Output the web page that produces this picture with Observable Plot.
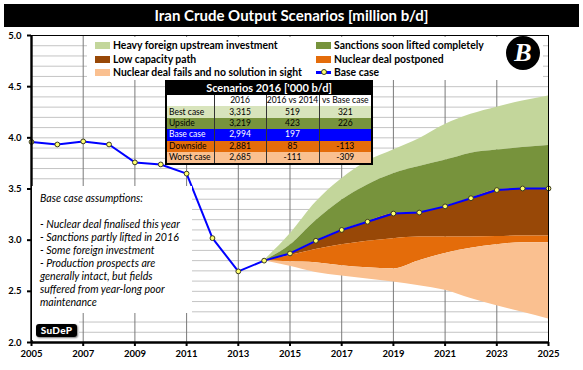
<!DOCTYPE html>
<html><head><meta charset="utf-8">
<script src="https://cdn.jsdelivr.net/npm/d3@7"></script>
<script src="https://cdn.jsdelivr.net/npm/@observablehq/plot@0.6"></script>
<style>
body{margin:0;background:#fff;}
#wrap{position:relative;width:583px;height:370px;overflow:hidden;font-family:Lato,sans-serif;}
#wrap svg{position:absolute;left:0;top:0;}
.title{position:absolute;left:4px;top:4px;width:575px;height:23px;background:#000;color:#fff;font-weight:bold;font-size:15px;text-align:center;line-height:23px;}
.legbox{position:absolute;left:87px;top:37px;width:456px;height:43px;background:#fff;}
.leg{position:absolute;font-weight:bold;font-size:10.4px;line-height:12px;white-space:nowrap;color:#000;}
.sw{position:absolute;width:15px;height:7px;}
.logo{position:absolute;left:506px;top:36px;width:34px;height:34px;border-radius:50%;background:#000;color:#fff;font:italic bold 26px "Liberation Serif",serif;text-align:center;line-height:34px;}
table.t{position:absolute;left:165px;top:80px;border-collapse:collapse;border:2px solid #000;border-top:none;font-size:8.5px;width:206px;table-layout:fixed;}
table.t td{padding:0;height:11.4px;line-height:11px;text-align:center;border-left:1px solid #333;white-space:nowrap;overflow:hidden;}
table.t td:first-child{text-align:left;border-left:none;padding-left:2px;}
table.t th{background:#000;color:#fff;font-size:11px;font-weight:bold;height:15px;line-height:15px;padding:0;}
.note{position:absolute;left:32px;top:186px;width:160px;height:127px;background:#fff;font-style:italic;font-size:10.6px;line-height:13px;color:#000;}
.note div{padding-left:8px;white-space:nowrap;}
.sudepbg{position:absolute;left:32px;top:313px;width:47px;height:27px;background:#fff;}
.sudep{position:absolute;left:36px;top:324px;width:41px;height:13px;background:#000;border-radius:3px;color:#fff;font-weight:900;font-size:10px;line-height:13px;text-align:center;box-shadow:1px 1px 2px #777;letter-spacing:0.3px;}
</style></head><body><div id="wrap"></div>
<script>
// ---- data ----
const years = [2005,2006,2007,2008,2009,2010,2011,2012,2013,2014,2015,2016,2017,2018,2019,2020,2021,2022,2023,2024,2025];
const baseCase = [3.96,3.935,3.965,3.935,3.76,3.74,3.65,3.02,2.695,2.80,2.87,2.994,3.10,3.18,3.26,3.27,3.33,3.41,3.49,3.505,3.505];

const scenYears   = [2014,2015,2016,2017,2018,2019,2020,2021,2022,2023,2024,2025];
const bestTop     = [2.80,3.06,3.37,3.60,3.77,3.88,3.99,4.13,4.23,4.30,4.36,4.41];
const upsideTop   = [2.80,2.95,3.19,3.39,3.54,3.65,3.72,3.78,3.85,3.88,3.905,3.925];
const baseLine    = [2.80,2.87,2.994,3.10,3.18,3.26,3.27,3.33,3.41,3.49,3.505,3.505];
const lowCapBot   = [2.80,2.85,2.91,2.955,2.99,3.015,3.03,3.03,3.03,3.035,3.04,3.04];
const postponeBot = [2.80,2.79,2.78,2.75,2.73,2.72,2.80,2.87,2.92,2.955,2.975,2.975];
const worstBot    = [2.80,2.745,2.685,2.65,2.62,2.59,2.555,2.51,2.43,2.36,2.295,2.23];

const legendLabels = ["Heavy foreign upstream investment","Sanctions soon lifted completely","Low capacity path","Nuclear deal postponed","Nuclear deal fails and no solution in sight","Base case"];
const bandColors = ["#C3D69B","#77933C","#984807","#E46C0A","#FAC090"];

const tableTitle = "Scenarios 2016 ['000 b/d]";
const tableCols = ["2016","2016 vs 2014","vs Base case"];
const tableRows = ["Best case","Upside","Base case","Downside","Worst case"];
const table2016 = ["3,315","3,219","2,994","2,881","2,685"];
const tableVs2014 = ["519","423","197","85","-111"];
const tableVsBase = ["321","226","","-113","-309"];

const noteLines = ["Base case assumptions:","","- Nuclear deal finalised this year","- Sanctions partly lifted in 2016","- Some foreign investment","- Production prospects are","generally intact, but fields","suffered from year-long poor","maintenance"];

const xTicks = [2005,2007,2009,2011,2013,2015,2017,2019,2021,2023,2025];
const yTicks = [2.0,2.5,3.0,3.5,4.0,4.5,5.0];

// ---- build tables ----
const base = years.map((y,i)=>({year:y, v:baseCase[i]}));
const scen = scenYears.map((y,i)=>({year:y, best:bestTop[i], up:upsideTop[i], base:baseLine[i], low:lowCapBot[i], post:postponeBot[i], worst:worstBot[i]}));
const gridY = d3.range(21,50).map(d=>d/10);
const gridX = xTicks.slice(1,-1);

const plot = Plot.plot({
  width:583, height:370,
  marginLeft:31, marginRight:35, marginTop:35, marginBottom:28,
  x:{domain:[2005,2025], label:null},
  y:{domain:[2,5], label:null},
  style:{fontFamily:"Lato", fontSize:"9.5px", fontWeight:"bold", color:"#000", background:"transparent"},
  marks:[
    Plot.ruleY(gridY, {stroke:"#c4c4c4", strokeWidth:1}),
    Plot.ruleX(gridX, {stroke:"#7a7a7a", strokeWidth:1}),
    Plot.areaY(scen, {x:"year", y1:"up", y2:"best", fill:bandColors[0], curve:"monotone-x"}),
    Plot.areaY(scen, {x:"year", y1:"base", y2:"up", fill:bandColors[1], curve:"monotone-x"}),
    Plot.areaY(scen, {x:"year", y1:"low", y2:"base", fill:bandColors[2], curve:"monotone-x"}),
    Plot.areaY(scen, {x:"year", y1:"post", y2:"low", fill:bandColors[3], curve:"monotone-x"}),
    Plot.areaY(scen, {x:"year", y1:"worst", y2:"post", fill:bandColors[4], curve:"monotone-x"}),
    Plot.line(base, {x:"year", y:"v", stroke:"#0000ff", strokeWidth:2}),
    Plot.dot(base, {x:"year", y:"v", r:2.4, fill:"#ffff70", stroke:"#3a3a20", strokeWidth:1}),
    Plot.frame({stroke:"#000", strokeWidth:1}),
    Plot.axisX({ticks:xTicks, tickFormat:d=>String(d), tickSize:4, tickPadding:4, strokeWidth:2, label:null}),
    Plot.axisY({ticks:yTicks, tickFormat:d3.format(".1f"), tickSize:4, tickPadding:6, strokeWidth:2, label:null}),
    Plot.ruleX([2005], {stroke:"#000", strokeWidth:2.4}),
    Plot.ruleY([2], {stroke:"#000", strokeWidth:2.4})
  ]
});

const wrap = document.getElementById("wrap");
wrap.appendChild(plot);

function el(tag, cls, parent, text){ const e=document.createElement(tag); if(cls) e.className=cls; if(text!=null) e.textContent=text; (parent||wrap).appendChild(e); return e; }

// title
el("div","title",wrap,"Iran Crude Output Scenarios [million b/d]");

// legend
el("div","legbox");
const legPos = [[95,45],[316,45],[95,59],[316,59],[95,72],[316,72]];
const legColor = [bandColors[0],bandColors[1],bandColors[2],bandColors[3],bandColors[4],null];
legendLabels.forEach((lab,i)=>{
  const [x,y]=legPos[i];
  if(legColor[i]){
    const s=el("div","sw"); s.style.left=x+"px"; s.style.top=(y-3.5)+"px"; s.style.background=legColor[i];
  } else {
    const l=el("div","sw"); l.style.left=x+"px"; l.style.top=(y-1)+"px"; l.style.height="2.5px"; l.style.background="#0000ff";
    const d=el("div","sw"); d.style.left=(x+5)+"px"; d.style.top=(y-3)+"px"; d.style.width="4px"; d.style.height="4px"; d.style.borderRadius="50%"; d.style.background="#ffff70"; d.style.border="1px solid #3a3a20";
  }
  const t=el("div","leg",wrap,lab); t.style.left=(x+18)+"px"; t.style.top=(y-6.5)+"px";
});
el("div","logo",wrap,"B");

// table
const tb = el("table","t");
const cg = el("colgroup","",tb); [48,52,53,53].forEach(w=>{const c=el("col","",cg); c.style.width=w+"px";});
const hr = el("tr","",tb); const th=el("th","",hr,tableTitle); th.colSpan=4;
const ch = el("tr","",tb); ch.style.background="#fff"; el("td","",ch,""); tableCols.forEach(c=>el("td","",ch,c));
const rowBg = ["#D8E4BC","#77933C","#0000ff","#E46C0A","#FAC090"];
tableRows.forEach((r,i)=>{
  const tr=el("tr","",tb); tr.style.background=rowBg[i]; tr.style.color = i===2?"#fff":"#000";
  el("td","",tr,r); el("td","",tr,table2016[i]); el("td","",tr,tableVs2014[i]); el("td","",tr,tableVsBase[i]);
});

// note
const note = el("div","note");
note.style.paddingTop="6px"; note.style.boxSizing="border-box";
noteLines.forEach(l=>{ const d=el("div","",note,l); if(!l) d.innerHTML="&nbsp;"; });

// SuDeP
el("div","sudepbg"); el("div","sudep",wrap,"SuDeP");
</script></body></html>
